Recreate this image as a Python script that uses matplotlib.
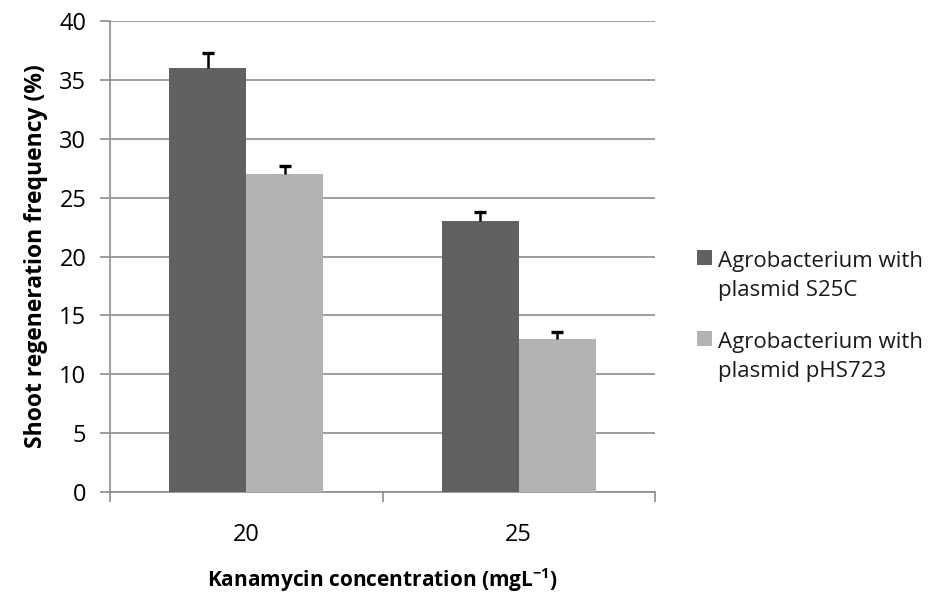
import matplotlib.pyplot as plt
import matplotlib.patches as mpatches
import numpy as np

# data
concentrations = ['20', '25']
s25c = [36, 23]
s25c_err = [1.3, 0.75]
phs723 = [27, 13]
phs723_err = [0.65, 0.55]
series_names = [['Agrobacterium with', 'plasmid S25C'],
                ['Agrobacterium with', 'plasmid pHS723']]
colors = ['#616161', '#b3b3b3']

plt.rcParams['font.family'] = ['Open Sans', 'DejaVu Sans']
plt.rcParams['mathtext.fontset'] = 'custom'
plt.rcParams['mathtext.rm'] = 'Open Sans'
plt.rcParams['mathtext.bf'] = 'Open Sans:bold'

W, H = 937, 600
fig = plt.figure(figsize=(W / 100, H / 100), dpi=100)
ax = fig.add_axes([110 / W, 108 / H, 545 / W, 471 / H])

x = np.arange(len(concentrations))
w = 0.283
err_kw = dict(ecolor='black', elinewidth=1.8, capsize=4.3, capthick=2.4)
bars = []
bars.append(ax.bar(x - w / 2, s25c, w, color=colors[0],
                   yerr=[np.zeros(2), s25c_err], error_kw=err_kw, zorder=3))
bars.append(ax.bar(x + w / 2, phs723, w, color=colors[1],
                   yerr=[np.zeros(2), phs723_err], error_kw=err_kw, zorder=3))
# only the plus side of the error bar is shown, hide the lower caps
for b in bars:
    b.errorbar.lines[1][0].set_visible(False)

ax.set_xlim(-0.5, 1.5)
ax.set_ylim(0, 40)
ax.set_yticks(range(0, 41, 5))
ax.yaxis.grid(True, color='#8c8c8c', linewidth=1.2, zorder=0)
ax.set_axisbelow(True)

ax.set_xticks([-0.5, 0.5, 1.5], minor=False)
ax.set_xticklabels([])
ax.set_xticks(x, minor=True)
ax.set_xticklabels(concentrations, minor=True)
ax.tick_params(axis='x', which='major', length=7, color='#8c8c8c', width=1.2)
ax.tick_params(axis='x', which='minor', length=0, pad=22, labelsize=17)
ax.tick_params(axis='y', length=7, color='#8c8c8c', width=1.2, labelsize=17, pad=10)

for s in ['top', 'right']:
    ax.spines[s].set_visible(False)
for s in ['left', 'bottom']:
    ax.spines[s].set_color('#8c8c8c')
    ax.spines[s].set_linewidth(1.2)

ax.set_ylabel('Shoot regeneration frequency (%)', fontsize=16.5, fontweight='bold', labelpad=8)
ax.set_xlabel('Kanamycin concentration (mgL$^{\\mathbf{-1}}$)', fontsize=15, fontweight='bold', labelpad=14)

# legend drawn by hand: square next to the first line of a two line label
legend_top = [250, 331]
for i, lines in enumerate(series_names):
    y0 = legend_top[i]
    fig.add_artist(mpatches.Rectangle((697 / W, 1 - (y0 + 15) / H), 15 / W, 15 / H,
                                      transform=fig.transFigure, color=colors[i], lw=0))
    for j, t in enumerate(lines):
        fig.text(718 / W, 1 - (y0 + 17 + 29 * j) / H, t, fontsize=16,
                 va='baseline', ha='left', color='#1a1a1a')

fig.savefig('out.png', dpi=100)
